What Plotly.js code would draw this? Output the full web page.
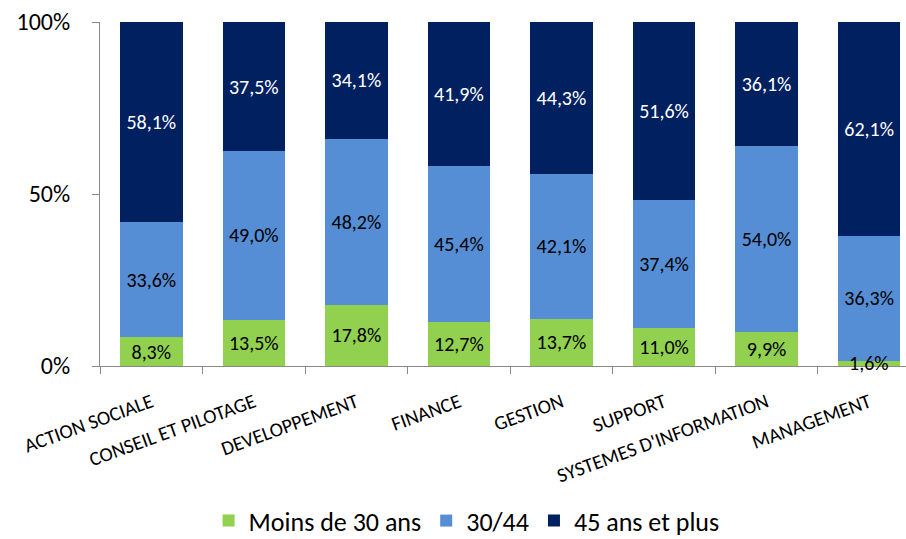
<!DOCTYPE html>
<html><head><meta charset="utf-8">
<script src="https://cdn.plot.ly/plotly-3.0.1.min.js"></script>
<style>body{margin:0;background:#fff}#c{width:906px;height:539px}</style>
</head><body><div id="c"></div>
<script>
var categories = ["ACTION SOCIALE","CONSEIL ET PILOTAGE","DEVELOPPEMENT","FINANCE","GESTION","SUPPORT","SYSTEMES D'INFORMATION","MANAGEMENT"];
var moins30 = [8.3, 13.5, 17.8, 12.7, 13.7, 11.0, 9.9, 1.6];
var de30a44 = [33.6, 49.0, 48.2, 45.4, 42.1, 37.4, 54.0, 36.3];
var plus45 = [58.1, 37.5, 34.1, 41.9, 44.3, 51.6, 36.1, 62.1];
var seriesNames = ["Moins de 30 ans", "30/44", "45 ans et plus"];
var yTicks = [0, 50, 100];

var FONT = "Carlito, Lato, sans-serif";
function fmt(v){ return v.toFixed(1).replace('.', ',') + '%'; }

var small = 5; // values below this are labelled with an annotation
function mk(vals, name, color, txtColor){
  return {
    type: 'bar', x: categories, y: vals, name: name,
    marker: {color: color, line: {width: 0}},
    text: vals.map(function(v){ return v < small ? '' : fmt(v); }),
    textposition: 'inside', insidetextanchor: 'middle',
    textfont: {family: FONT, size: 20, color: txtColor},
    constraintext: 'none', hoverinfo: 'none'
  };
}
var data = [
  mk(moins30, seriesNames[0], '#92D050', '#000000'),
  mk(de30a44, seriesNames[1], '#558ED5', '#000000'),
  mk(plus45, seriesNames[2], '#002060', '#FFFFFF')
];
var ann = [];
moins30.forEach(function(v, i){
  if (v < small) ann.push({x: categories[i], y: v/2, text: fmt(v), showarrow: false,
    font: {family: FONT, size: 20, color: '#000'}, yanchor: 'middle'});
});

var layout = {
  width: 906, height: 539,
  margin: {l: 100, r: 0, t: 22, b: 173},
  barmode: 'stack', bargap: 0.39,
  paper_bgcolor: '#fff', plot_bgcolor: '#fff',
  font: {family: FONT, color: '#000'},
  showlegend: true,
  legend: {orientation: 'h', xref: 'container', x: 0.515, xanchor: 'center',
    yref: 'container', y: 0.034, yanchor: 'middle',
    font: {family: FONT, size: 26, color: '#000'}, traceorder: 'normal', itemwidth: 30},
  xaxis: {
    type: 'category', range: [-0.5, 7.36], tickangle: -20,
    tickfont: {family: FONT, size: 20, color: '#000'},
    showline: true, linecolor: '#898989', linewidth: 1,
    ticks: 'outside', tickson: 'boundaries', ticklen: 7, tickcolor: '#898989',
    ticklabelstandoff: 16,
    showgrid: false, zeroline: false, fixedrange: true
  },
  yaxis: {
    range: [0, 100], tickvals: yTicks, ticktext: yTicks.map(function(t){return t + '%';}),
    tickfont: {family: FONT, size: 24, color: '#000'},
    showline: true, linecolor: '#898989', linewidth: 1,
    ticks: 'outside', ticklen: 7, tickcolor: '#898989', ticklabelstandoff: 17,
    showgrid: false, zeroline: false, fixedrange: true
  },
  annotations: ann
};
Plotly.newPlot('c', data, layout, {displayModeBar: false, staticPlot: true});
</script></body></html>
